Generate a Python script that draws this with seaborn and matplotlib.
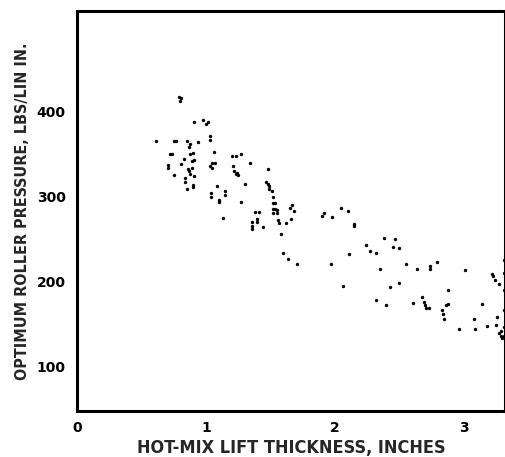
import matplotlib
matplotlib.use("Agg")
import matplotlib.pyplot as plt
import seaborn as sns
import pandas as pd

thickness = [0.61, 0.79, 0.80, 0.81, 0.71, 0.71, 0.72, 0.74, 0.75, 0.77,
             0.75, 0.81, 0.83, 0.84, 0.84, 0.85, 0.85, 0.87, 0.88, 0.86,
             0.87, 0.89, 0.88, 0.90, 0.88, 0.91, 0.89, 0.91, 0.90, 0.90,
             0.91, 0.94, 0.98, 1.00, 1.02, 1.03, 1.03, 1.03, 1.05, 1.06,
             1.05, 1.07, 1.04, 1.04, 1.09, 1.10, 1.10, 1.13, 1.15, 1.15,
             1.20, 1.23, 1.21, 1.22, 1.24, 1.23, 1.25, 1.27, 1.27, 1.30,
             1.34, 1.36, 1.36, 1.36, 1.38, 1.41, 1.40, 1.40, 1.44, 1.48,
             1.47, 1.48, 1.49, 1.49, 1.51, 1.52, 1.52, 1.54, 1.52, 1.54,
             1.55, 1.52, 1.55, 1.56, 1.57, 1.58, 1.62, 1.60, 1.64, 1.65,
             1.67, 1.68, 1.66, 1.71, 1.90, 1.92, 1.98, 1.97, 2.05, 2.10,
             2.06, 2.11, 2.15, 2.15, 2.24, 2.27, 2.32, 2.35, 2.32, 2.38,
             2.40, 2.43, 2.45, 2.47, 2.50, 2.50, 2.55, 2.61, 2.64, 2.68,
             2.69, 2.70, 2.71, 2.73, 2.74, 2.74, 2.79, 2.83, 2.84, 2.85,
             2.86, 2.88, 2.88, 2.96, 3.01, 3.08, 3.09, 3.14, 3.18, 3.22,
             3.23, 3.24, 3.27, 3.25, 3.26, 3.27, 3.29, 3.29, 3.30, 3.31,
             3.31, 3.31, 3.31, 3.31, 3.31]
pressure = [366, 418, 413, 416, 337, 334, 350, 350, 366, 366,
            326, 339, 344, 322, 317, 309, 366, 358, 362, 332,
            330, 334, 350, 351, 327, 324, 342, 343, 314, 311,
            388, 364, 390, 386, 388, 372, 367, 336, 334, 352,
            340, 340, 304, 300, 313, 296, 294, 275, 307, 302,
            348, 348, 336, 330, 328, 327, 326, 294, 350, 315,
            340, 270, 265, 262, 282, 282, 273, 270, 264, 333,
            317, 315, 313, 309, 306, 300, 292, 292, 285, 285,
            284, 281, 281, 272, 269, 256, 269, 233, 226, 286,
            290, 283, 274, 220, 277, 281, 276, 220, 286, 283,
            194, 232, 268, 265, 243, 236, 234, 214, 178, 251,
            172, 193, 241, 250, 239, 198, 221, 174, 215, 182,
            176, 172, 168, 168, 218, 214, 223, 166, 161, 155,
            172, 173, 190, 144, 213, 156, 144, 173, 147, 209,
            206, 202, 197, 149, 158, 139, 135, 141, 133, 225,
            210, 190, 166, 146, 136]

x_ticks = [0, 1, 2, 3]
y_ticks = [100, 200, 300, 400]
x_label = "HOT-MIX LIFT THICKNESS, INCHES"
y_label = "OPTIMUM ROLLER PRESSURE, LBS/LIN IN."

df = pd.DataFrame({"thickness": thickness, "pressure": pressure})

sns.set_style("white")
plt.rcParams["font.family"] = ["DejaVu Sans"]

fig = plt.figure(figsize=(5.06, 4.57), dpi=100)
ax = fig.add_axes([0.152, 0.1007, 0.846, 0.8753])

sns.scatterplot(data=df, x="thickness", y="pressure", ax=ax,
                color="black", s=6, marker="o", linewidth=0, legend=False)

ax.set_xlim(0, 3.32)
ax.set_ylim(47, 519)
ax.set_xticks(x_ticks)
ax.set_yticks(y_ticks)
ax.set_xticklabels([str(t) for t in x_ticks], fontsize=10, fontweight="bold")
ax.set_yticklabels([str(t) for t in y_ticks], fontsize=10, fontweight="bold")
ax.tick_params(direction="in", length=6, width=2, colors="black")
ax.tick_params(axis="y", pad=8)
ax.tick_params(axis="x", pad=7)
for sp in ax.spines.values():
    sp.set_linewidth(2.2)
    sp.set_color("black")

ax.set_xlabel(x_label, fontsize=13, fontweight="bold",
              fontstretch="condensed", labelpad=3)
ax.set_ylabel(y_label, fontsize=11.5, fontweight="bold",
              fontstretch="condensed", labelpad=5)

fig.savefig("out.png", dpi=100)
